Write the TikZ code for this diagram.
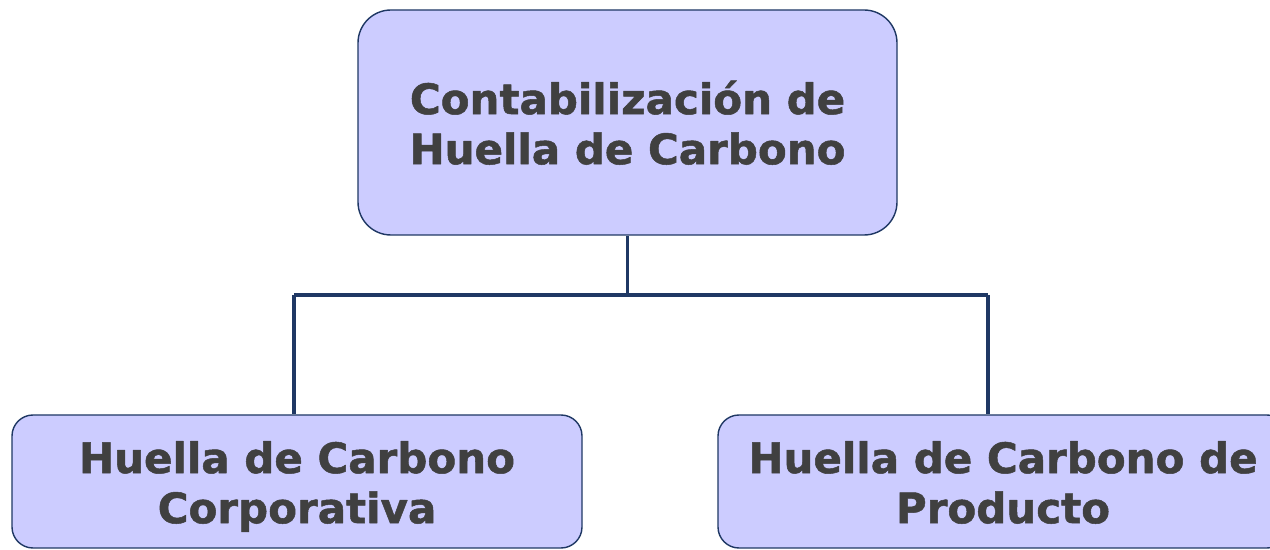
\documentclass[tikz,border=0pt]{standalone}
\usepackage{fontspec}
\setmainfont[BoldFeatures={FakeBold=1.2}]{DejaVu Sans}
\definecolor{cajafondo}{HTML}{CCCCFF}
\definecolor{cajaborde}{HTML}{1F3864}
\definecolor{textogris}{HTML}{404040}
\newcommand{\alto}{\rule{0pt}{27.5pt}}
\tikzset{
  caja/.style={draw=cajaborde, fill=cajafondo, line width=0.8pt, text=textogris, align=center,
    inner sep=0pt, font=\bfseries\fontsize{23.9}{28.5}\selectfont},
  enlace/.style={draw=cajaborde, line width=2.2pt}
}
\begin{document}
\begin{tikzpicture}[line join=round]
            \def\busy{5.1}
            \useasboundingbox (0,0) rectangle (25.4,11);
            \node[caja, rounded corners=0.66cm, minimum width=10.78cm, minimum height=4.5cm] (huella) at (12.55,8.55) {\alto Contabilización de\\Huella de Carbono\strut};
            \node[caja, rounded corners=0.42cm, minimum width=11.4cm, minimum height=2.66cm] (corporativa) at (5.94,1.37) {\alto Huella de Carbono\\Corporativa\strut};
            \node[caja, rounded corners=0.42cm, minimum width=11.4cm, minimum height=2.66cm] (producto) at (20.06,1.37) {\alto Huella de Carbono de\\Producto\strut};
            \coordinate (busL) at (5.88,\busy);
            \coordinate (busR) at (19.76,\busy);
            \draw[enlace] (huella.south) -- (huella.south |- busL);
            \draw[enlace] (busL) -- (busR);
            \draw[enlace] (busL) -- (busL |- corporativa.north);
            \draw[enlace] (busR) -- (busR |- producto.north);
        \end{tikzpicture}
\end{document}
